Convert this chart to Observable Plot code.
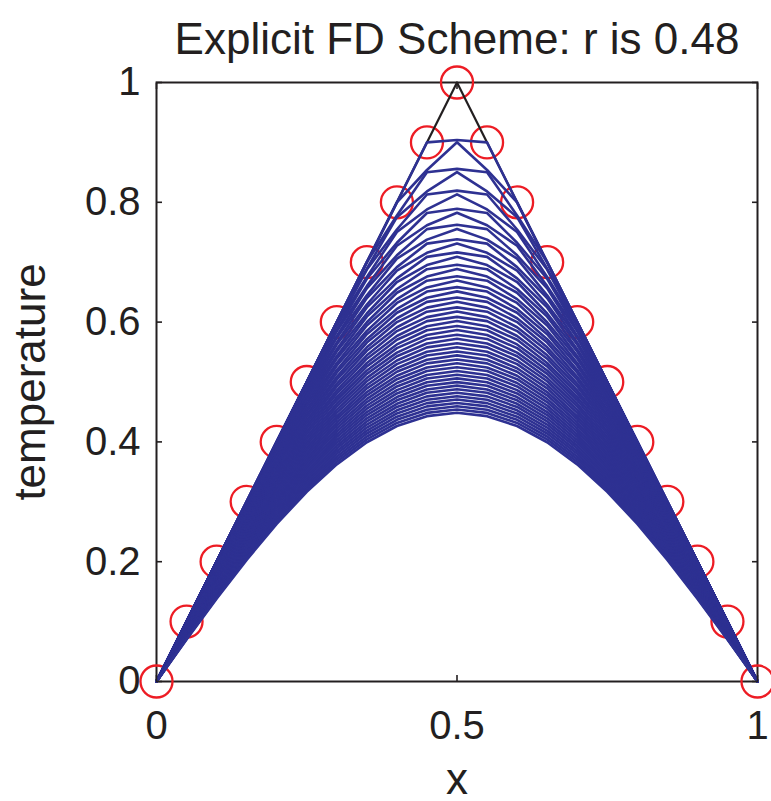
<!DOCTYPE html>
<html>
<head>
<meta charset="utf-8">
<script src="https://cdn.jsdelivr.net/npm/d3@7"></script>
<script src="https://cdn.jsdelivr.net/npm/@observablehq/plot@0.6"></script>
<style>
  html, body { margin: 0; padding: 0; background: #fff; }
  #chart svg { display: block; }
</style>
</head>
<body>
<div id="chart"></div>
<script>
// ---- data ----
const titleText = "Explicit FD Scheme: r is 0.48";
const xLabel = "x";
const yLabel = "temperature";
// grid points (red circles) and the initial temperature profile
const xGrid = [0, 0.05, 0.1, 0.15, 0.2, 0.25, 0.3, 0.35, 0.4, 0.45, 0.5, 0.55, 0.6, 0.65, 0.7, 0.75, 0.8, 0.85, 0.9, 0.95, 1];
const uInitial = [0, 0.1, 0.2, 0.3, 0.4, 0.5, 0.6, 0.7, 0.8, 0.9, 1, 0.9, 0.8, 0.7, 0.6, 0.5, 0.4, 0.3, 0.2, 0.1, 0];
// the explicit FD scheme named in the title: r = 0.48, 50 time steps (last peak ~0.45)
const rValue = 0.48;
const nSteps = 50;
const xTicks = [0, 0.5, 1];
const xTickLabels = ["0", "0.5", "1"];
const yTicks = [0, 0.2, 0.4, 0.6, 0.8, 1];
const yTickLabels = ["0", "0.2", "0.4", "0.6", "0.8", "1"];

// ---- explicit FD time stepping (the scheme shown in the chart) ----
const initialRows = xGrid.map((x, i) => ({x, u: uInitial[i]}));
const stepRows = [];
let u = uInitial.slice();
for (let n = 1; n <= nSteps; n++) {
  const next = u.map((v, i) => (i === 0 || i === u.length - 1) ? v : v + rValue * (u[i - 1] - 2 * v + u[i + 1]));
  u = next;
  u.forEach((v, i) => stepRows.push({step: n, x: xGrid[i], u: v}));
}

const ink = "#231f20";
const blue = "#2e3192";
const red = "#ed1c24";

const chart = Plot.plot({
  width: 771,
  height: 801,
  marginLeft: 156,
  marginRight: 14,
  marginTop: 82,
  marginBottom: 120,
  style: {fontFamily: "'Liberation Sans', Arial, sans-serif", fontSize: "40px", background: "#fff", color: ink, overflow: "visible"},
  x: {domain: [0, 1]},
  y: {domain: [0, 1]},
  marks: [
    Plot.frame({stroke: ink, strokeWidth: 2}),
    Plot.dot(initialRows, {x: "x", y: "u", r: 16, stroke: red, strokeWidth: 2.3}),
    Plot.line(initialRows, {x: "x", y: "u", stroke: ink, strokeWidth: 2.2}),
    Plot.line(stepRows, {x: "x", y: "u", z: "step", stroke: blue, strokeWidth: 2.6}),
    Plot.axisX(xTicks, {anchor: "bottom", label: null, tickSize: -6, tickPadding: 35, fontSize: 40, strokeWidth: 1.6,
      tickFormat: d => xTickLabels[xTicks.indexOf(d)]}),
    Plot.axisX(xTicks, {anchor: "top", label: null, tickSize: -6, strokeWidth: 1.6, tickFormat: () => ""}),
    Plot.axisY(yTicks, {anchor: "left", label: null, tickSize: -6, tickPadding: 22, fontSize: 40, strokeWidth: 1.6,
      tickFormat: d => yTickLabels[yTicks.indexOf(d)]}),
    Plot.axisY(yTicks, {anchor: "right", label: null, tickSize: -6, strokeWidth: 1.6, tickFormat: () => ""}),
    Plot.text([titleText], {text: d => d, frameAnchor: "top", dy: -29, lineAnchor: "bottom", fontSize: 44, fill: ink}),
    Plot.text([xLabel], {text: d => d, frameAnchor: "bottom", dy: 112, lineAnchor: "bottom", fontSize: 44, fill: ink}),
    Plot.text([yLabel], {text: d => d, frameAnchor: "left", textAnchor: "middle", rotate: -90, dx: -126, lineAnchor: "middle", fontSize: 44, fill: ink})
  ]
});
document.getElementById("chart").appendChild(chart);
</script>
</body>
</html>
